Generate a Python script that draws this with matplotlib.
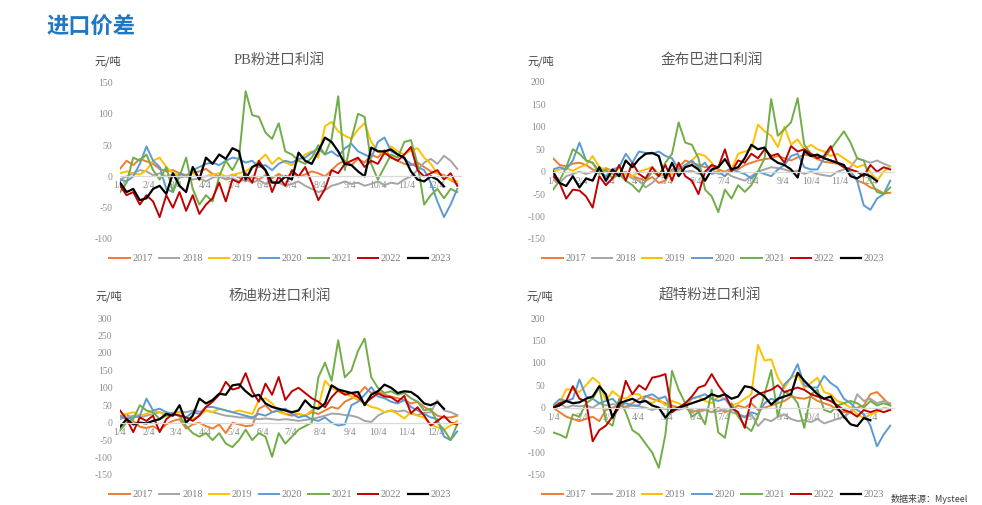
"""Four-panel import profit chart (进口价差), weekly readings per year."""

import matplotlib.pyplot as plt
import numpy as np

plt.rcParams["axes.unicode_minus"] = False

YEARS = ["2017", "2018", "2019", "2020", "2021", "2022", "2023"]
YEAR_COLORS = ["#ED7D31", "#A5A5A5", "#FFC000", "#5B9BD5", "#70AD47", "#C00000", "#000000"]

# x axis: days counted from 1/4, one reading per week
TICK_DAYS = [0, 31, 59, 90, 120, 151, 181, 212, 243, 273, 304, 334]
TICK_LABELS = ["1/4", "2/4", "3/4", "4/4", "5/4", "6/4", "7/4", "8/4", "9/4", "10/4", "11/4", "12/4"]
WEEK_DAYS = np.arange(52) * 7

# PB粉进口利润
PB_2017 = [12, 25, 18, 28, 24, 20, 12, 8, 10, 5, 2, 6, 8, 12, 4, 0, -4, 3, -2, -8,
           0, -5, 2, -3, 4, -2, 5, 0, 3, 8, 5, 0, 10, 20, 25, 18, 28, 22, 35, 30,
           42, 32, 25, 20, 18, 22, 15, 8, 5, 2, -6, -12]
PB_2018 = [-5, 0, 5, 10, 8, 2, 5, 0, 3, -2, 0, -5, -3, -8, -2, 0, -5, -3, -8, -5,
           -10, -6, -12, -8, -10, -15, -12, -8, -15, -20, -25, -22, -15, -12, -8, -12, -10, -15, -12, -8,
           -14, -10, -12, -5, 0, 10, 22, 28, 20, 33, 25, 12]
PB_2019 = [5, 8, 5, 3, 10, 25, 30, 15, 5, 2, 0, 5, -2, 0, 3, 5, 0, 2, 5, 8,
           15, 25, 35, 20, 30, 22, 18, 25, 35, 40, 30, 80, 87, 72, 65, 60, 75, 85, 55, 40,
           35, 48, 40, 35, 42, 45, 30, 20, 5, 0, -5, -8]
PB_2020 = [-5, -8, 0, 20, 48, 25, 15, -20, -25, 5, 0, 10, 15, 20, 22, 18, 25, 30, 28, 22,
           25, 15, 18, 10, 20, 25, 22, 28, 30, 38, 45, 35, 40, 32, 45, 52, 40, 35, 30, 55,
           62, 40, 35, 28, 20, 15, 10, -10, -40, -65, -45, -20]
PB_2021 = [-25, -10, 30, 25, 35, 10, -5, 15, -25, 0, 30, -20, -45, -30, -40, 0, 25, 10, 30, 136,
           98, 95, 70, 60, 85, 40, 35, 25, 20, 30, 50, 35, 60, 128, 10, 60, 100, 95, 20, -5,
           15, 35, 30, 55, 58, 20, -45, -30, -20, -35, -20, -25]
PB_2022 = [-15, -30, -25, -45, -30, -40, -65, -30, -50, -25, -55, -30, -60, -45, -35, -10, -40, -5, -10, 5,
           -10, 25, 10, -25, 0, -15, 10, 0, 15, -10, -38, -20, 10, 5, 20, 25, 30, 15, 25, 20,
           38, 30, 25, 35, 47, 10, 0, 5, 10, -5, 5, -15]
PB_2023 = [-10, -25, -20, -38, -35, -20, -15, -28, 5, -15, -25, 15, -5, 30, 20, 35, 28, 45, 40, -5,
           15, 20, 10, -10, -10, 0, -5, 38, 25, 20, 40, 62, 55, 40, 20, 18, 8, 0, 46, 40,
           40, 43, 35, 30, 8, -5, -8, 0, -5, -16]

# 金布巴进口利润
JBB_2017 = [30, 15, 12, 18, 20, 15, 5, 0, 8, 2, -5, 0, -10, -15, -20, -12, -25, -20, 5, 10,
            25, 20, 15, 10, 12, 5, 0, 8, 5, 15, 20, 25, 28, 30, 35, 30, 25, 32, 38, 35,
            28, 22, 20, 18, 10, 0, -20, -25, -35, -40, -48, -47]
JBB_2018 = [-18, -25, -10, -5, 0, -5, 0, 5, 0, -5, -10, -5, -15, -20, -35, -25, -10, -5, 0, 5,
            0, 2, -5, 0, 5, -5, 0, -10, -15, -20, -10, 0, 5, 10, 8, 5, 0, 2, -5, 0,
            -5, -8, -10, 0, 5, 10, 30, 25, 20, 25, 18, 12]
JBB_2019 = [0, 5, 8, 2, 10, 15, 35, 10, 5, 0, 8, -5, -10, 0, 5, 10, -5, -10, -5, 0,
            10, 25, 40, 35, 20, 0, -10, 5, 40, 45, 50, 105, 90, 80, 55, 100, 60, 72, 50, 60,
            50, 45, 35, 40, 30, 20, 10, 15, 0, -20, 0, 12]
JBB_2020 = [5, 10, 5, 25, 65, 25, 20, 0, -10, 5, 10, 40, 20, 45, 42, 40, 45, 35, 30, 5,
            15, 25, 10, 20, -5, 0, -10, 5, 0, -5, -15, 0, -5, -10, 5, 15, 35, 40, 10, 5,
            5, 30, 25, 20, 10, 0, -20, -75, -85, -60, -50, -20]
JBB_2021 = [-40, -20, 10, 50, 40, 25, 20, -5, 5, -15, -5, -20, -30, -45, -20, 0, -10, 20, 40, 110,
            65, 60, 30, -40, -55, -90, -40, -60, -30, -45, -30, 0, 30, 162, 80, 95, 110, 164, 60, 40,
            35, 30, 50, 70, 90, 65, 30, 25, -20, -45, -50, -35]
JBB_2022 = [-10, -25, -60, -40, -42, -55, -80, -10, -30, -15, 15, -20, 20, -5, -15, 10, -10, 15, -20, 20,
            -10, -20, -50, 0, 15, 10, 50, 0, 25, 20, 40, 30, 50, 35, 40, 20, 57, 45, 50, 40,
            30, 35, 57, 20, 10, 5, 0, -10, 15, 0, 10, 5]
JBB_2023 = [0, -25, -32, -10, -35, -15, -20, 10, -20, 5, -10, 25, 10, 28, 40, 42, 35, -15, 20, -10,
            10, 15, 5, -20, 5, 10, 28, 5, 10, 30, 60, 50, 54, 30, 20, 15, 5, -13, 46, 35,
            38, 30, 25, 20, 15, -10, -15, -5, -10, -21]

# 杨迪粉进口利润
YD_2017 = [15, 25, 5, -12, -15, -10, -22, -5, 5, 10, -17, -5, 0, -10, -17, -5, -30, 0, -5, -10,
           -8, 40, 50, 30, 35, 25, 20, 25, 20, 30, 25, 35, 45, 40, 60, 69, 80, 102, 85, 90,
           80, 75, 70, 65, 55, 60, 45, 35, 20, 15, 15, 20]
YD_2018 = [10, 15, 20, 15, 20, 25, 30, 25, 28, 31, 30, 35, 32, 35, 30, 25, 20, 18, 15, 15,
           12, 10, 12, 10, 8, 10, 8, 5, 8, 10, 15, 20, 26, 25, 22, 20, 15, 5, 2, 20,
           30, 35, 32, 35, 25, 22, 28, 30, 64, 35, 30, 22]
YD_2019 = [20, 25, 30, 20, 25, 35, 30, 20, 25, 30, 15, 10, 20, 35, 30, 40, 35, 30, 35, 30,
           25, 65, 70, 55, 30, 25, 30, 25, 20, 35, 45, 120, 100, 90, 84, 75, 65, 55, 45, 41,
           30, 35, 25, 12, 30, 20, 15, -5, -13, -20, -8, 5]
YD_2020 = [20, 10, 15, 20, 69, 35, 40, 30, 25, 20, 15, 30, 25, 45, 45, 40, 35, 30, 25, 20,
           15, 25, 20, 30, 35, 40, 25, 15, 20, 10, 5, 15, 0, -8, -5, 50, 60, 80, 102, 75,
           70, 60, 55, 65, 45, 35, 25, 15, 10, -40, -50, -25]
YD_2021 = [-22, 0, 10, 50, 35, 30, 10, 20, 25, 20, -10, -30, -40, -30, -50, -30, -60, -70, -50, -20,
           -50, -30, -40, -98, -30, -60, -40, -20, -10, 0, 130, 172, 120, 236, 130, 150, 206, 241, 130, 100,
           85, 90, 80, 85, 70, 60, 35, 40, 0, -20, -50, -5]
YD_2022 = [35, 10, -27, 15, 5, 20, -27, 10, 25, 20, 15, 5, 20, 45, 60, 80, 117, 95, 100, 142,
           90, 60, 112, 80, 131, 65, 90, 100, 85, 70, 60, 44, 73, 93, 80, 85, 73, 55, 70, 84,
           75, 73, 60, 77, 27, 44, 20, -8, 5, 19, 0, -5]
YD_2023 = [-12, 10, -5, 0, -2, 5, 10, 25, 20, 50, 0, 20, 69, 55, 65, 83, 80, 107, 110, 90,
           75, 80, 55, 45, 40, 35, 30, 35, 64, 45, 40, 55, 107, 95, 90, 85, 88, 50, 80, 90,
           109, 100, 85, 90, 88, 75, 55, 50, 59, 40]

# 超特粉进口利润
CT_2017 = [0, -10, -20, -25, -30, -25, -20, -30, -5, 0, 5, 2, 10, 20, 26, 20, 15, 10, 5, 0,
           0, -10, -5, -5, -10, 0, -10, -5, 5, 0, 10, -5, 0, 5, 10, 15, 25, 22, 20, 25,
           15, 10, 5, -5, -10, -10, 0, 5, 30, 35, 20, 5]
CT_2018 = [5, 10, 0, 5, 3, 5, 0, 10, 5, 8, 5, 0, 5, 3, 0, -5, 0, -3, 0, -5,
           0, -5, -10, -5, -10, -8, -5, -10, -15, -22, -15, -41, -25, -30, -20, -15, -25, -30, -28, -32,
           -25, -35, -30, -25, -20, -10, 30, 15, 20, 10, 15, 10]
CT_2019 = [5, 10, 41, 40, 35, 50, 67, 55, 15, 37, 25, 20, 30, 30, 15, 10, 20, 5, 15, 10,
           0, 20, 25, 15, 10, 25, 20, 5, 10, 20, 30, 140, 105, 108, 67, 44, 67, 74, 44, 55,
           67, 35, 30, 15, 10, 0, -14, -23, -15, -10, 0, -3]
CT_2020 = [5, 19, 15, 20, 63, 25, 20, 10, 15, 20, 5, 10, 5, 5, 25, 30, 20, 25, -10, 0,
           10, 20, 25, 30, 20, 15, 20, 0, -15, -20, -10, -15, 10, 20, 15, 52, 67, 97, 50, 45,
           45, 71, 55, 45, 20, 10, -5, -14, -40, -86, -60, -40]
CT_2021 = [-55, -60, -67, -15, -20, 10, 20, 45, -30, -40, 20, -10, -50, -60, -80, -100, -134, -60, 82, 40,
           10, -20, -10, -37, 40, -55, -67, 10, -20, -40, -52, -20, 30, 84, -20, 35, 30, 10, -45, 30,
           40, -5, -10, 5, 10, 15, 10, 0, 15, 5, 10, 5]
CT_2022 = [0, 10, 15, 48, 20, 15, -75, -50, -40, -20, 0, 60, 30, 50, 40, 67, 70, 75, -10, 0,
           10, 25, 45, 50, 75, 50, 30, 0, -10, -45, 20, 30, 35, 40, 50, 35, 40, 45, 40, 30,
           25, 20, 15, 5, -5, -10, -20, -5, -10, -5, -10, -5]
CT_2023 = [0, 5, 15, 10, 12, 20, 25, 48, 30, -22, 10, 15, 20, 12, 15, 5, 0, -22, -5, 0,
           5, 10, 15, 20, 30, 25, 30, 20, 25, 48, 45, 35, 25, 7, 20, 25, 30, 78, 60, 45,
           30, 20, 25, 0, -20, -37, -41, -23, -28]

W, H = 982, 505
SERIF = "Liberation Serif"
CJK = ["Liberation Serif", "Noto Sans CJK SC", "DejaVu Sans"]
SANS_CJK = ["Noto Sans CJK SC", "DejaVu Sans"]
TICK_GRAY = "#8c8c8c"

PANELS = [
    ("PB粉进口利润", [PB_2017, PB_2018, PB_2019, PB_2020, PB_2021, PB_2022, PB_2023],
     (-100, 150), (120, 82.5, 461, 239), (279, 60), (108, 61)),
    ("金布巴进口利润", [JBB_2017, JBB_2018, JBB_2019, JBB_2020, JBB_2021, JBB_2022, JBB_2023],
     (-150, 200), (553, 82, 894, 239), (712, 60), (541, 61)),
    ("杨迪粉进口利润", [YD_2017, YD_2018, YD_2019, YD_2020, YD_2021, YD_2022, YD_2023],
     (-150, 300), (120, 318, 461, 475), (280, 296), (109, 296)),
    ("超特粉进口利润", [CT_2017, CT_2018, CT_2019, CT_2020, CT_2021, CT_2022, CT_2023],
     (-150, 200), (553, 318, 894, 475), (710, 296), (540, 296)),
]

fig = plt.figure(figsize=(W / 100, H / 100), dpi=100)

for title, series, ylim, box, title_xy, unit_xy in PANELS:
    left, top, right, bottom = box
    ax = fig.add_axes([left / W, 1 - bottom / H, (right - left) / W, (bottom - top) / H])

    for year, color, values in zip(YEARS, YEAR_COLORS, series):
        lw = 1.6 if year == "2023" else 1.4
        ax.plot(WEEK_DAYS[:len(values)], values, color=color, lw=lw, label=year)

    ax.set_xlim(0, 361)
    ax.set_ylim(*ylim)
    ax.set_yticks(np.arange(ylim[0], ylim[1] + 1, 50))
    ax.set_xticks(TICK_DAYS)
    ax.set_xticklabels(TICK_LABELS)

    for side in ["left", "right", "top"]:
        ax.spines[side].set_visible(False)
    ax.spines["bottom"].set_position(("data", 0))
    ax.spines["bottom"].set_color("#d9d9d9")
    ax.spines["bottom"].set_linewidth(0.9)
    ax.set_axisbelow(True)
    ax.patch.set_alpha(0)

    ax.tick_params(axis="both", length=0, labelsize=7, labelcolor=TICK_GRAY)
    ax.tick_params(axis="y", pad=5.5)
    ax.tick_params(axis="x", pad=3.5)
    for lab in ax.get_xticklabels() + ax.get_yticklabels():
        lab.set_family(SERIF)

    ax.legend(loc="center", bbox_to_anchor=(0.47, -0.125), ncol=7, frameon=False,
              prop={"family": SERIF, "size": 7.5}, labelcolor="#7f7f7f",
              handlelength=1.95, handletextpad=0.25, columnspacing=0.6, borderpad=0)

    fig.text(title_xy[0] / W, 1 - title_xy[1] / H, title, ha="center", va="center",
             fontsize=10.5, color="#595959", family=CJK)
    fig.text(unit_xy[0] / W, 1 - unit_xy[1] / H, "元/吨", ha="center", va="center",
             fontsize=8, color="#404040", family=SANS_CJK)

fig.text(47 / W, 1 - 27 / H, "进口价差", ha="left", va="center", fontsize=16,
         fontweight="bold", color="#1f78c1", family=SANS_CJK)
fig.text(891 / W, 1 - 504 / H, "数据来源：Mysteel", ha="left", va="bottom", fontsize=6.5,
         color="#404040", family=SANS_CJK)

fig.savefig("out.png", dpi=100)
